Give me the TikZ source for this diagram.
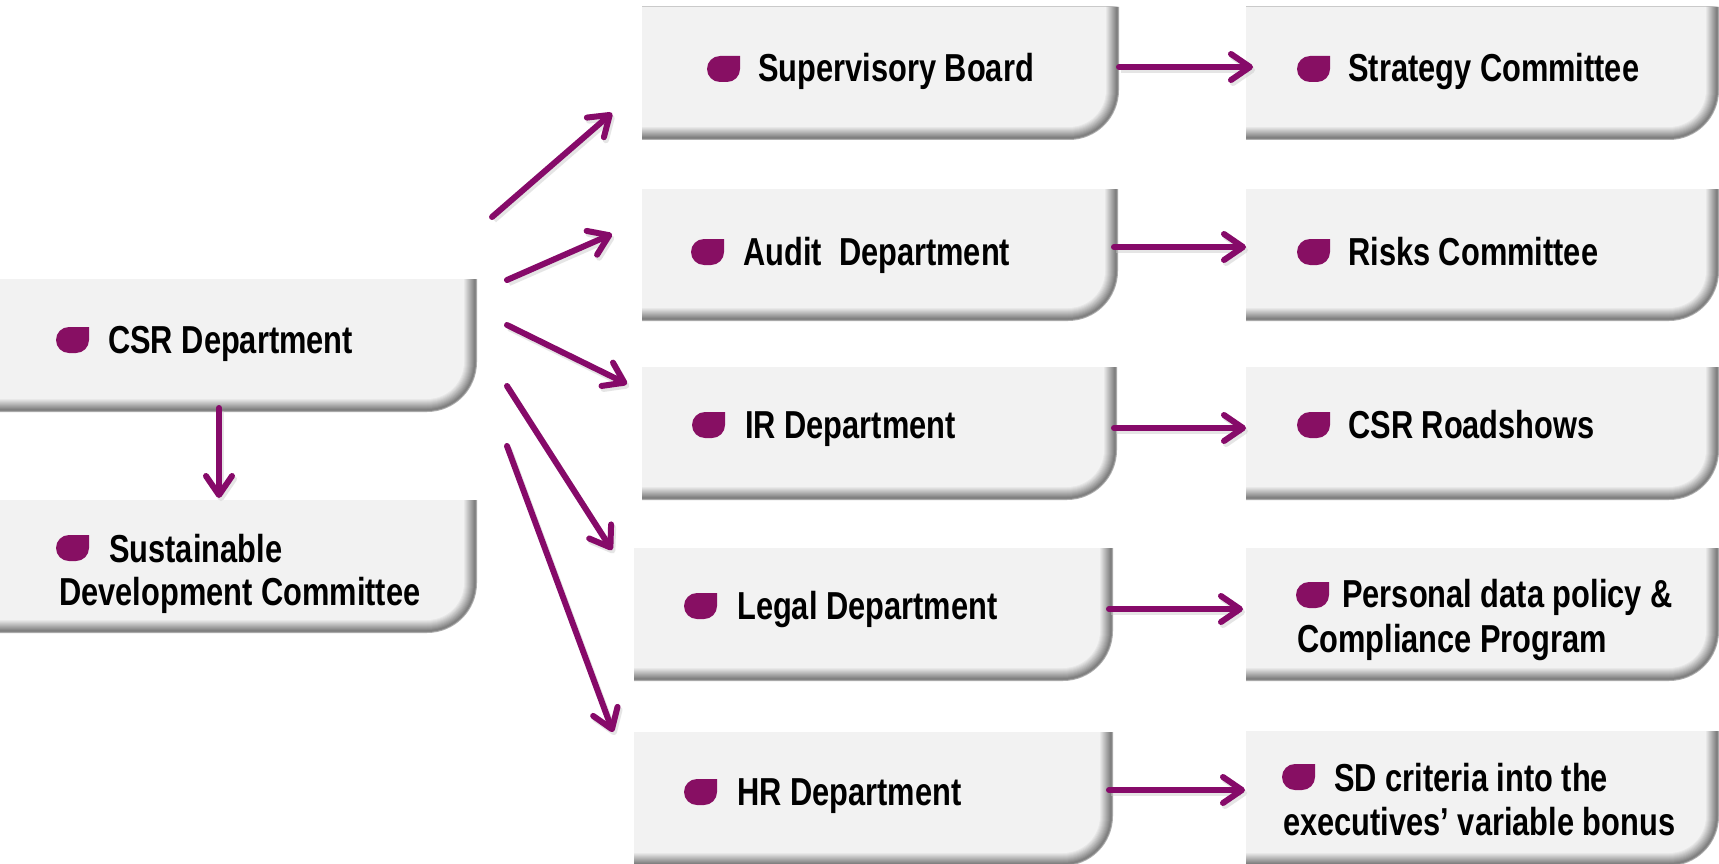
\documentclass[tikz,border=0pt]{standalone}
\usepackage{fontspec}
\setmainfont[FakeStretch=0.79]{Liberation Sans}
\usetikzlibrary{arrows.meta}
\definecolor{plum}{HTML}{870F63}
\definecolor{arrowplum}{HTML}{860A69}
\definecolor{boxfill}{HTML}{F2F2F2}
\definecolor{edgegray}{HTML}{767676}

\tikzset{
  lbl/.style={anchor=base west, inner sep=0pt, font=\fontsize{39}{44}\selectfont\bfseries},
  boxnode/.style={inner sep=0pt, draw=none},
  arr/.style={draw=arrowplum, line width=6pt, line cap=round,
    -{Straight Barb[length=19pt, width=26pt, round]},
    preaction={draw=black!22, line width=6pt, opacity=0.45,
      transform canvas={shift={(2pt,-3pt)}}}},
}

% name, x0, y0, x1, y1 (pixel coordinates, y down)
\newcommand\shadedbox[5]{%
  \foreach \i in {0,...,13}{%
    \pgfmathtruncatemacro\pc{\i<2 ? (\i==0 ? 45 : 12) : 100*(\i-1)/12}%
    \pgfmathsetmacro\xr{#4-\i}%
    \pgfmathsetmacro\yb{#5-\i}%
    \pgfmathsetmacro\rr{50-\i}%
    \pgfmathsetmacro\kk{0.4477*\rr}%
    \fill[boxfill!\pc!edgegray] (#2,#3) -- (\xr,#3) -- ({\xr},{\yb-\rr})
      .. controls ({\xr},{\yb-\kk}) and ({\xr-\kk},{\yb}) .. ({\xr-\rr},{\yb})
      -- (#2,\yb) -- cycle;
  }%
  \pgfmathsetmacro\bw{#4-#2}%
  \pgfmathsetmacro\bh{#5-#3}%
  \node[boxnode, minimum width=\bw pt, minimum height=\bh pt] (#1) at ({(#2+#4)/2},{(#3+#5)/2}) {};
}

% bullet leaf, top-left corner
\newcommand\leaf[2]{%
  \fill[plum] ({#1+33},{#2}) -- ({#1+13},{#2})
    .. controls ({#1+5.8},{#2}) and ({#1},{#2+5.8}) .. ({#1},{#2+13})
    .. controls ({#1},{#2+20.2}) and ({#1+5.8},{#2+26}) .. ({#1+13},{#2+26})
    -- ({#1+20},{#2+26})
    .. controls ({#1+27.2},{#2+26}) and ({#1+33},{#2+20.2}) .. ({#1+33},{#2+13})
    -- cycle;
}

\begin{document}
\begin{tikzpicture}[x=1pt, y=-1pt]
\fill[white] (0,0) rectangle (1719,864);
\useasboundingbox (0,0) rectangle (1719,864);

% boxes
\shadedbox{csr}{0}{279}{477}{412}
\shadedbox{sdc}{0}{500}{477}{633}
\shadedbox{sb}{642}{7}{1119}{140}
\shadedbox{aud}{642}{189}{1118}{321}
\shadedbox{ir}{642}{367}{1117}{500}
\shadedbox{legal}{634}{548}{1113}{681}
\shadedbox{hr}{634}{732}{1113}{866}
\shadedbox{strat}{1246}{7}{1719}{140}
\shadedbox{risks}{1246}{189}{1719}{321}
\shadedbox{road}{1246}{367}{1719}{500}
\shadedbox{pers}{1246}{548}{1719}{681}
\shadedbox{sdcrit}{1246}{731}{1719}{866}

% bullets
\leaf{56}{327}
\leaf{56}{535}
\leaf{707}{56}
\leaf{691}{239}
\leaf{692}{412}
\leaf{684}{593}
\leaf{684}{779}
\leaf{1297}{56}
\leaf{1297}{239}
\leaf{1297}{412}
\leaf{1296}{582}
\leaf{1282}{764}

% labels
\node[lbl] (csr-t) at (108,353) {CSR Department};
\node[lbl] (sdc-t) at (59,562) {\begin{tabular}[t]{@{}l@{}}\hspace*{50pt}Sustainable\\[-1pt]Development Committee\end{tabular}};
\node[lbl] (sb-t) at (758,82) {Supervisory Board};
\node[lbl] (aud-t) at (743,265) {Audit\ \ Department};
\node[lbl] (ir-t) at (745,438) {IR Department};
\node[lbl] (legal-t) at (737,619) {Legal Department};
\node[lbl] (hr-t) at (737,805) {HR Department};
\node[lbl] (strat-t) at (1348,82) {Strategy Committee};
\node[lbl] (risks-t) at (1348,265) {Risks Committee};
\node[lbl] (road-t) at (1348,438) {CSR Roadshows};
\node[lbl] (pers-t) at (1297,607) {\begin{tabular}[t]{@{}l@{}}\hspace*{45pt}Personal data policy \&\\[1pt]Compliance Program\end{tabular}};
\node[lbl] (sdcrit-t) at (1283,791) {\begin{tabular}[t]{@{}l@{}}\hspace*{51pt}SD criteria into the\\executives’ variable bonus\end{tabular}};

% connector end points
\coordinate (c1s) at (492,217);  \coordinate (c1e) at (612,113);
\coordinate (c2s) at (507,280);  \coordinate (c2e) at (612,234);
\coordinate (c3s) at (507,325);  \coordinate (c3e) at (627,384);
\coordinate (c4s) at (507,386);  \coordinate (c4e) at (612,550);
\coordinate (c5s) at (507,446);  \coordinate (c5e) at (613,732);
\coordinate (c6s) at (219,408);  \coordinate (c6e) at (219,498);
\coordinate (h1s) at (1119,67);  \coordinate (h1e) at (1253,67);
\coordinate (h2s) at (1114,247); \coordinate (h2e) at (1246,247);
\coordinate (h3s) at (1114,428); \coordinate (h3e) at (1246,428);
\coordinate (h4s) at (1109,609); \coordinate (h4e) at (1243,609);
\coordinate (h5s) at (1109,790); \coordinate (h5e) at (1245,790);

\draw[arr] (c1s) -- (c1e);
\draw[arr] (c2s) -- (c2e);
\draw[arr] (c3s) -- (c3e);
\draw[arr] (c4s) -- (c4e);
\draw[arr] (c5s) -- (c5e);
\draw[arr] (c6s) -- (c6e);
\draw[arr] (h1s) -- (h1e);
\draw[arr] (h2s) -- (h2e);
\draw[arr] (h3s) -- (h3e);
\draw[arr] (h4s) -- (h4e);
\draw[arr] (h5s) -- (h5e);
\end{tikzpicture}
\end{document}
